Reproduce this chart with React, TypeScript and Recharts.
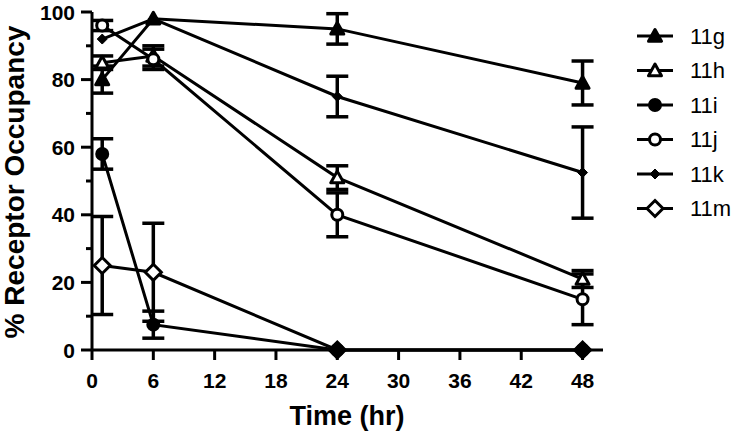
import React from "react";
import { ErrorBar, Line, LineChart, XAxis, YAxis } from "recharts";

// sampling times (hr)
const TIMES = [1, 6, 24, 48];

// % receptor occupancy per compound, with error (SEM)
const G = [80, 98, 95, 79];
const G_ERR = [4, null, 4.5, 6.5];
const H = [85, 87, 51, 21];
const H_ERR = [2, 3, 3.5, 2.5];
const I = [58, 7.5, 0, 0];
const I_ERR = [4.5, 4, null, null];
const J = [96, 86, 40, 15];
const J_ERR = [1.5, 3, 6.5, 7.5];
const K = [92, 98, 75, 52.5];
const K_ERR = [null, null, 6, 13.5];
const M = [25, 23, 0, 0];
const M_ERR = [14.5, 14.5, null, null];

const X_TICKS = [0, 6, 12, 18, 24, 30, 36, 42, 48];
const Y_TICKS = [0, 10, 20, 30, 40, 50, 60, 70, 80, 90, 100];

const FONT = "'Liberation Sans', Arial, sans-serif";

type Shape = "triangle" | "circle" | "diamond" | "smallDiamond";

const SERIES: { key: string; name: string; values: number[]; errors: (number | null)[]; shape: Shape; filled: boolean }[] = [
  { key: "g", name: "11g", values: G, errors: G_ERR, shape: "triangle", filled: true },
  { key: "h", name: "11h", values: H, errors: H_ERR, shape: "triangle", filled: false },
  { key: "i", name: "11i", values: I, errors: I_ERR, shape: "circle", filled: true },
  { key: "j", name: "11j", values: J, errors: J_ERR, shape: "circle", filled: false },
  { key: "k", name: "11k", values: K, errors: K_ERR, shape: "smallDiamond", filled: true },
  { key: "m", name: "11m", values: M, errors: M_ERR, shape: "diamond", filled: false },
];

// one row per time point: { t, g, gErr, h, hErr, ... }
const data = TIMES.map((t, idx) => {
  const row: Record<string, number | null> = { t };
  SERIES.forEach((s) => {
    row[s.key] = s.values[idx] ?? null;
    row[s.key + "Err"] = s.errors[idx];
  });
  return row;
});

// draw order: diamonds first so the filled circle of 11i sits inside 11m on the axis
const DRAW_ORDER = ["m", "k", "h", "g", "j", "i"];

function Marker({ shape, filled, cx, cy }: { shape: Shape; filled: boolean; cx: number; cy: number }) {
  const fill = filled ? "#000" : "#fff";
  const common = { fill, stroke: "#000", strokeWidth: 3 };
  switch (shape) {
    case "triangle": {
      const s = 6.5;
      return <polygon points={`${cx},${cy - s} ${cx + s},${cy + s * 0.8} ${cx - s},${cy + s * 0.8}`} {...common} strokeLinejoin="round" />;
    }
    case "circle":
      return <circle cx={cx} cy={cy} r={5.5} {...common} />;
    case "smallDiamond": {
      const s = 5;
      return <polygon points={`${cx},${cy - s} ${cx + s},${cy} ${cx},${cy + s} ${cx - s},${cy}`} fill="#000" stroke="#000" strokeWidth={1} />;
    }
    case "diamond": {
      const s = 8;
      return <polygon points={`${cx},${cy - s} ${cx + s},${cy} ${cx},${cy + s} ${cx - s},${cy}`} {...common} />;
    }
  }
  return null;
}

function YTick({ x, y, payload }: any) {
  const v = payload.value;
  const major = v % 20 === 0;
  return (
    <g>
      <line x1={x} x2={x - (major ? 11 : 6)} y1={y} y2={y} stroke="#000" strokeWidth={3} />
      {major && (
        <text x={x - 17} y={y} dy="0.36em" textAnchor="end" fontFamily={FONT} fontWeight="bold" fontSize={21} fill="#000">
          {v}
        </text>
      )}
    </g>
  );
}

function XTick({ x, y, payload }: any) {
  return (
    <g>
      <line x1={x} x2={x} y1={y} y2={y + 10} stroke="#000" strokeWidth={3} />
      <text x={x} y={y + 38} textAnchor="middle" fontFamily={FONT} fontWeight="bold" fontSize={21} fill="#000">
        {payload.value}
      </text>
    </g>
  );
}

function ChartLegend() {
  return (
    <svg width={115} height={210} style={{ position: "absolute", left: 630, top: 18 }}>
      {SERIES.map((s, i) => {
        const y = 18 + i * 34.5;
        return (
          <g key={s.key}>
            <line x1={7} x2={43} y1={y} y2={y} stroke="#000" strokeWidth={3} />
            <Marker shape={s.shape} filled={s.filled} cx={25} cy={y} />
            <text x={60} y={y} dy="0.36em" fontFamily={FONT} fontSize={22} fill="#000">
              {s.name}
            </text>
          </g>
        );
      })}
    </svg>
  );
}

export default function App() {
  return (
    <div style={{ position: "absolute", left: 0, top: 0, width: 745, height: 432, background: "#fff" }}>
      <LineChart width={745} height={432} data={data} margin={{ top: 12, right: 142, bottom: 0, left: 0 }}>
        <XAxis
          dataKey="t"
          type="number"
          domain={[0, 50]}
          ticks={X_TICKS}
          height={82}
          tickSize={0}
          tickMargin={0}
          tickLine={false}
          tick={<XTick />}
          axisLine={{ stroke: "#000", strokeWidth: 3 }}
          label={() => (
            <text x={347} y={425} textAnchor="middle" fontFamily={FONT} fontWeight="bold" fontSize={27} fill="#000">
              Time (hr)
            </text>
          )}
        />
        <YAxis
          type="number"
          domain={[0, 100]}
          ticks={Y_TICKS}
          width={92}
          tickSize={0}
          tickMargin={0}
          tickLine={false}
          tick={<YTick />}
          axisLine={{ stroke: "#000", strokeWidth: 3 }}
          label={() => (
            <text transform="translate(24,182) rotate(-90)" textAnchor="middle" fontFamily={FONT} fontWeight="bold" fontSize={28} fill="#000">
              % Receptor Occupancy
            </text>
          )}
        />
        {DRAW_ORDER.map((k) => {
          const s = SERIES.find((x) => x.key === k)!;
          return (
            <Line
              key={s.key}
              dataKey={s.key}
              name={s.name}
              type="linear"
              stroke="#000"
              strokeWidth={3}
              isAnimationActive={false}
              dot={(props: any) => {
                const { cx, cy, index, value } = props;
                if (cx == null || cy == null || value == null) return <g key={`${s.key}-${index}`} />;
                return <Marker key={`${s.key}-${index}`} shape={s.shape} filled={s.filled} cx={cx} cy={cy} />;
              }}
              activeDot={false}
            >
              <ErrorBar dataKey={s.key + "Err"} direction="y" width={11} stroke="#000" strokeWidth={3.5} />
            </Line>
          );
        })}
      </LineChart>
      <ChartLegend />
    </div>
  );
}
